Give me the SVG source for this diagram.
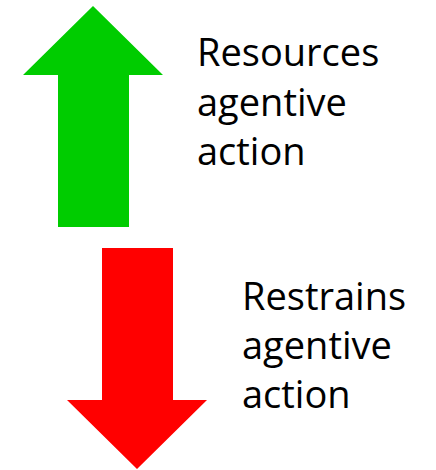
<svg xmlns="http://www.w3.org/2000/svg" width="436" height="470" viewBox="0 0 436 470">
<style>
.lbl{font-family:"Open Sans","Liberation Sans",sans-serif;font-size:38px;fill:#000}
</style>
<rect width="436" height="470" fill="#fff"/>
<g id="up-arrow">
<polygon points="93,6 163,75 129,75 129,227 58,227 58,75 23,75" fill="#00CC00"/>
</g>
<g id="down-arrow">
<polygon points="102,248 173,248 173,400 207,400 137,469 67,400 102,400" fill="#FF0000"/>
</g>
<g id="label-resources">
<text class="lbl" x="197" y="66">Resources</text>
<text class="lbl" x="197" y="115.5">agentive</text>
<text class="lbl" x="197" y="165">action</text>
</g>
<g id="label-restrains">
<text class="lbl" x="242" y="310">Restrains</text>
<text class="lbl" x="242" y="359">agentive</text>
<text class="lbl" x="242" y="408">action</text>
</g>
<g id="connectors"/>
</svg>
